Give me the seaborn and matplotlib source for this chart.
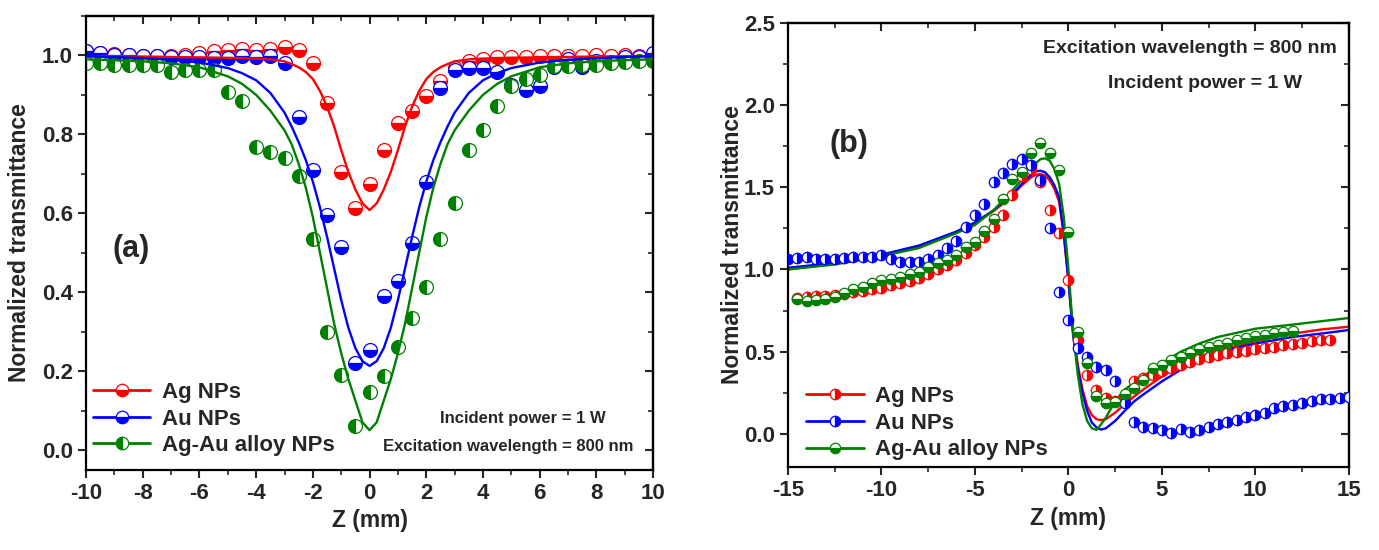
import matplotlib
matplotlib.use("Agg")
import matplotlib.pyplot as plt
from matplotlib.lines import Line2D
from matplotlib.ticker import MultipleLocator
import seaborn as sns

# ---------------- panel (a): open aperture ----------------
z_a = [-10, -9.5, -9, -8.5, -8, -7.5, -7, -6.5, -6, -5.5, -5, -4.5, -4, -3.5, -3, -2.5, -2,
       -1.5, -1, -0.5, 0, 0.5, 1, 1.5, 2, 2.5, 3, 3.5, 4, 4.5, 5, 5.5, 6, 6.5, 7, 7.5, 8,
       8.5, 9, 9.5, 10]
ag_a = [1.010, 1.005, 1.003, 1.000, 0.999, 0.999, 0.999, 1.000, 1.005, 1.010, 1.014, 1.016,
        1.014, 1.016, 1.022, 1.014, 0.980, 0.879, 0.705, 0.613, 0.675, 0.761, 0.829, 0.859,
        0.898, 0.935, 0.969, 0.986, 0.990, 0.995, 0.997, 0.997, 0.998, 0.998, 0.999, 0.999,
        1.000, 0.998, 1.000, 0.998, 1.000]
au_a = [1.010, 1.007, 1.000, 1.000, 0.999, 0.999, 0.996, 0.996, 0.996, 0.994, 0.994, 0.998,
        0.996, 0.999, 0.980, 0.843, 0.710, 0.596, 0.514, 0.220, 0.253, 0.389, 0.427, 0.524,
        0.680, 0.917, 0.963, 0.968, 0.968, 0.959, 0.925, 0.913, 0.923, 0.970, 0.990, 0.970,
        0.985, 0.984, 0.996, 0.996, 1.005]
alloy_a = [0.980, 0.980, 0.976, 0.976, 0.976, 0.975, 0.959, 0.963, 0.962, 0.963, 0.906, 0.885,
           0.767, 0.754, 0.741, 0.695, 0.535, 0.300, 0.190, 0.062, 0.148, 0.188, 0.260, 0.335,
           0.412, 0.534, 0.625, 0.760, 0.811, 0.872, 0.923, 0.940, 0.950, 0.972, 0.972, 0.976,
           0.976, 0.980, 0.983, 0.985, 0.985]

zfit_a = [-10, -9, -8, -7, -6, -5, -4.5, -4, -3.5, -3, -2.75, -2.5, -2.25, -2, -1.75, -1.5,
          -1.25, -1, -0.75, -0.5, -0.25, 0, 0.25, 0.5, 0.75, 1, 1.25, 1.5, 1.75, 2, 2.25, 2.5,
          2.75, 3, 3.5, 4, 4.5, 5, 6, 7, 8, 9, 10]
ag_fit_a = [0.998, 0.998, 0.997, 0.996, 0.995, 0.994, 0.993, 0.992, 0.990, 0.985, 0.978, 0.970,
            0.958, 0.940, 0.910, 0.870, 0.820, 0.760, 0.705, 0.660, 0.625, 0.608, 0.625, 0.660,
            0.705, 0.760, 0.820, 0.870, 0.910, 0.940, 0.958, 0.970, 0.978, 0.985, 0.990, 0.992,
            0.993, 0.994, 0.995, 0.996, 0.997, 0.998, 0.998]
au_fit_a = [0.998, 0.996, 0.993, 0.989, 0.982, 0.968, 0.955, 0.937, 0.905, 0.855, 0.820, 0.780,
            0.735, 0.680, 0.615, 0.540, 0.460, 0.380, 0.310, 0.258, 0.225, 0.213, 0.225, 0.258,
            0.310, 0.380, 0.460, 0.540, 0.615, 0.680, 0.735, 0.780, 0.820, 0.855, 0.905, 0.937,
            0.955, 0.968, 0.982, 0.989, 0.993, 0.996, 0.998]
alloy_fit_a = [0.990, 0.988, 0.985, 0.980, 0.970, 0.947, 0.928, 0.900, 0.860, 0.810, 0.775,
               0.725, 0.665, 0.590, 0.500, 0.410, 0.320, 0.245, 0.180, 0.125, 0.070, 0.050,
               0.070, 0.125, 0.180, 0.245, 0.320, 0.410, 0.500, 0.590, 0.665, 0.725, 0.775,
               0.810, 0.860, 0.900, 0.928, 0.947, 0.970, 0.980, 0.985, 0.988, 0.990]

# ---------------- panel (b): closed aperture ----------------
z_b = [-15, -14.5, -14, -13.5, -13, -12.5, -12, -11.5, -11, -10.5, -10, -9.5, -9, -8.5, -8,
       -7.5, -7, -6.5, -6, -5.5, -5, -4.5, -4, -3.5, -3, -2.5, -2, -1.5, -1, -0.5, 0, 0.5, 1,
       1.5, 2, 2.5, 3, 3.5, 4, 4.5, 5, 5.5, 6, 6.5, 7, 7.5, 8, 8.5, 9, 9.5, 10, 10.5, 11,
       11.5, 12, 12.5, 13, 13.5, 14, 14.5, 15]
au_b = [1.062, 1.068, 1.074, 1.065, 1.062, 1.062, 1.068, 1.074, 1.078, 1.078, 1.088, 1.062,
        1.048, 1.044, 1.048, 1.062, 1.088, 1.129, 1.175, 1.260, 1.330, 1.400, 1.534, 1.585,
        1.640, 1.670, 1.635, 1.544, 1.250, 0.861, 0.690, 0.520, 0.470, 0.410, 0.390, 0.320,
        0.190, 0.075, 0.045, 0.038, 0.024, 0.004, 0.028, 0.014, 0.024, 0.045, 0.061, 0.075,
        0.085, 0.105, 0.115, 0.126, 0.156, 0.170, 0.176, 0.190, 0.203, 0.211, 0.211, 0.217,
        0.227]
z_b_ag = z_b[1:59]
ag_b = [0.827, 0.835, 0.840, 0.840, 0.845, 0.850, 0.860, 0.870, 0.880, 0.890, 0.905, 0.915,
        0.930, 0.945, 0.970, 1.000, 1.030, 1.060, 1.100, 1.150, 1.200, 1.260, 1.330, 1.450,
        1.570, 1.610, 1.530, 1.360, 1.220, 0.935, 0.570, 0.360, 0.270, 0.220, 0.200, 0.230,
        0.320, 0.340, 0.360, 0.380, 0.400, 0.420, 0.440, 0.455, 0.470, 0.480, 0.490, 0.500,
        0.505, 0.515, 0.525, 0.530, 0.540, 0.550, 0.555, 0.565, 0.570, 0.570]
z_b_alloy = z_b[1:55]
alloy_b = [0.818, 0.810, 0.815, 0.818, 0.835, 0.855, 0.879, 0.896, 0.920, 0.936, 0.942, 0.956,
           0.973, 0.986, 1.017, 1.037, 1.058, 1.088, 1.139, 1.169, 1.236, 1.305, 1.427, 1.548,
           1.589, 1.706, 1.767, 1.710, 1.605, 1.230, 0.622, 0.430, 0.231, 0.186, 0.197, 0.243,
           0.278, 0.328, 0.400, 0.420, 0.450, 0.470, 0.490, 0.515, 0.531, 0.541, 0.551, 0.571,
           0.582, 0.596, 0.602, 0.612, 0.622, 0.626]

zfit_b = [-15, -12.5, -10, -8, -6, -5, -4, -3.5, -3, -2.5, -2, -1.75, -1.5, -1.25, -1, -0.75,
          -0.5, -0.25, 0, 0.25, 0.5, 0.75, 1, 1.25, 1.5, 1.75, 2, 2.5, 3, 3.5, 4, 5, 6, 7, 8,
          9, 10, 12, 13.5, 15]
ag_fit_b = [1.000, 1.035, 1.085, 1.140, 1.225, 1.280, 1.355, 1.400, 1.450, 1.510, 1.560, 1.575,
            1.580, 1.570, 1.540, 1.490, 1.410, 1.210, 0.930, 0.620, 0.420, 0.270, 0.170, 0.115,
            0.090, 0.085, 0.090, 0.130, 0.180, 0.227, 0.270, 0.350, 0.420, 0.470, 0.510, 0.535,
            0.565, 0.610, 0.635, 0.652]
au_fit_b = [1.010, 1.040, 1.090, 1.145, 1.230, 1.285, 1.360, 1.410, 1.460, 1.520, 1.575, 1.595,
            1.600, 1.590, 1.560, 1.510, 1.440, 1.220, 0.930, 0.600, 0.400, 0.250, 0.140, 0.070,
            0.040, 0.027, 0.035, 0.080, 0.140, 0.197, 0.240, 0.320, 0.390, 0.450, 0.490, 0.525,
            0.550, 0.590, 0.610, 0.632]
alloy_fit_b = [1.000, 1.030, 1.080, 1.130, 1.220, 1.270, 1.360, 1.420, 1.480, 1.545, 1.610,
               1.645, 1.670, 1.675, 1.660, 1.610, 1.520, 1.320, 1.000, 0.620, 0.360, 0.180,
               0.080, 0.035, 0.025, 0.060, 0.100, 0.200, 0.270, 0.310, 0.350, 0.430, 0.500,
               0.550, 0.590, 0.615, 0.640, 0.665, 0.685, 0.705]

labels = ["Ag NPs", "Au NPs", "Ag-Au alloy NPs"]
colors = ["#ff0000", "#0000ff", "#008000"]

sns.set_style("ticks")
plt.rcParams["font.family"] = ["Liberation Sans", "DejaVu Sans"]
plt.rcParams["font.weight"] = "bold"
plt.rcParams["axes.labelweight"] = "bold"
plt.rcParams["axes.unicode_minus"] = False

fig = plt.figure(figsize=(13.79, 5.5), dpi=100)
ax1 = fig.add_axes([0.0624, 0.146, 0.4112, 0.825])
ax2 = fig.add_axes([0.5714, 0.151, 0.4068, 0.808])


def half_marker(ax, x, y, c, fill, ms, z):
    sns.lineplot(x=x, y=y, ax=ax, color=c, linestyle="none", marker="o", markersize=ms,
                 fillstyle=fill, markerfacecolor=c, markerfacecoloralt="white",
                 markeredgecolor=c, markeredgewidth=0.9, legend=False, zorder=z)


def fit_line(ax, x, y, c, z):
    sns.lineplot(x=x, y=y, ax=ax, color=c, linewidth=1.7, legend=False, zorder=z)


# panel (a)
pts_a = [ag_a, au_a, alloy_a]
fits_a = [ag_fit_a, au_fit_a, alloy_fit_a]
fill_a = ["bottom", "bottom", "left"]
for y, yf, c, f in zip(pts_a, fits_a, colors, fill_a):
    half_marker(ax1, z_a, y, c, f, 10, 2)
    fit_line(ax1, zfit_a, yf, c, 3)

# panel (b)
zpts_b = [z_b_ag, z_b, z_b_alloy]
pts_b = [ag_b, au_b, alloy_b]
fits_b = [ag_fit_b, au_fit_b, alloy_fit_b]
fill_b = ["right", "right", "bottom"]
for x, y, yf, c, f in zip(zpts_b, pts_b, fits_b, colors, fill_b):
    fit_line(ax2, zfit_b, yf, c, 2)
    half_marker(ax2, x, y, c, f, 7.5, 3)

ax1.set_xlim(-10, 10)
ax1.set_ylim(-0.05, 1.1)
ax2.set_xlim(-15, 15)
ax2.set_ylim(-0.2, 2.5)

steps = {ax1: (2, 1, 0.2, 0.1), ax2: (5, 2.5, 0.5, 0.25)}
for ax, (xM, xm, yM, ym) in steps.items():
    for s in ax.spines.values():
        s.set_linewidth(1.6)
        s.set_color("black")
    ax.xaxis.set_major_locator(MultipleLocator(xM))
    ax.xaxis.set_minor_locator(MultipleLocator(xm))
    ax.yaxis.set_major_locator(MultipleLocator(yM))
    ax.yaxis.set_minor_locator(MultipleLocator(ym))
    ax.tick_params(which="both", direction="out", width=1.5, labelsize=16)
    ax.tick_params(which="major", length=6)
    ax.tick_params(which="minor", length=3.5, width=1.2)
    # inward ticks on the top and right edges
    top = ax.secondary_xaxis("top")
    top.xaxis.set_major_locator(MultipleLocator(xM))
    top.xaxis.set_minor_locator(MultipleLocator(xm))
    right = ax.secondary_yaxis("right")
    right.yaxis.set_major_locator(MultipleLocator(yM))
    right.yaxis.set_minor_locator(MultipleLocator(ym))
    for sec in (top, right):
        sec.tick_params(which="both", direction="in", width=1.5, labeltop=False,
                        labelright=False)
        sec.tick_params(which="major", length=6)
        sec.tick_params(which="minor", length=3.5, width=1.2)
        for s in sec.spines.values():
            s.set_linewidth(1.6)
    ax.set_xlabel("Z (mm)", fontsize=16.5, fontweight="bold")
    ax.set_ylabel("Normalized transmittance", fontsize=16.5, fontweight="bold")

ax1.yaxis.set_label_coords(-0.097, 0.5)
ax2.yaxis.set_label_coords(-0.078, 0.5)

ax1.text(-8.41, 0.51, "(a)", fontsize=22, fontweight="bold", ha="center", va="center")
ax1.text(5.41, 0.079, "Incident power = 1 W", fontsize=12, fontweight="bold",
         ha="center", va="center")
ax1.text(4.89, 0.008, "Excitation wavelength = 800 nm", fontsize=12, fontweight="bold",
         ha="center", va="center")

ax2.text(-11.74, 1.763, "(b)", fontsize=22, fontweight="bold", ha="center", va="center")
ax2.text(6.5, 2.345, "Excitation wavelength = 800 nm", fontsize=14, fontweight="bold",
         ha="center", va="center")
ax2.text(7.3, 2.13, "Incident power = 1 W", fontsize=14, fontweight="bold",
         ha="center", va="center")


def legend_handles(fills, ms):
    return [Line2D([], [], color=c, linewidth=2, marker="o", markersize=ms, fillstyle=f,
                   markerfacecolor=c, markerfacecoloralt="white", markeredgecolor=c,
                   markeredgewidth=0.9) for c, f in zip(colors, fills)]


ax1.legend(handles=legend_handles(fill_a, 9), labels=labels, loc="lower left",
           bbox_to_anchor=(0.0, 0.015), frameon=False, fontsize=16, handlelength=2.6,
           handletextpad=0.5, labelspacing=0.25, borderaxespad=0, borderpad=0.3)
ax2.legend(handles=legend_handles(fill_b, 7.5), labels=labels, loc="lower left",
           bbox_to_anchor=(0.02, 0.0), frameon=False, fontsize=16, handlelength=2.6,
           handletextpad=0.5, labelspacing=0.25, borderaxespad=0, borderpad=0.3)

fig.savefig("out.png", dpi=100)
